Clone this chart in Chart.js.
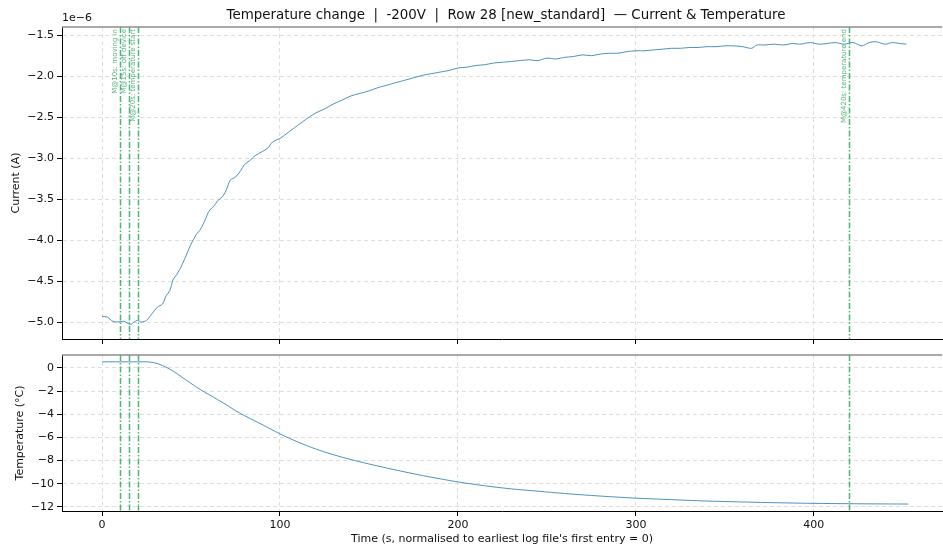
<!DOCTYPE html>
<html>
<head>
<meta charset="utf-8">
<script src="https://cdn.jsdelivr.net/npm/chart.js@4"></script>
<style>
  body { margin: 0; background: #fff; }
  #wrap { position: relative; width: 943px; height: 547px; }
  #wrap canvas { position: absolute; left: 0; }
</style>
</head>
<body>
<div id="wrap">
  <canvas id="currentChart" width="943" height="350" style="top:0"></canvas>
  <canvas id="tempChart" width="943" height="197" style="top:350px"></canvas>
</div>
<script>
// time axis ticks (s)
const timeTicks = [0, 100, 200, 300, 400];

// current trace, values in units of 1e-6 A
const currentTime = [0, 3, 6, 9, 12, 14, 16, 18, 20, 22, 25, 28, 31, 34, 36, 38, 40, 42, 45, 48,
  50, 53, 55, 58, 60, 63, 65, 68, 70, 72, 75, 78, 80, 83, 86, 90, 93, 96, 100, 105,
  110, 115, 120, 125, 130, 135, 140, 145, 150, 155, 160, 165, 170, 175, 180, 185, 190, 195, 200, 205,
  210, 215, 220, 225, 230, 235, 240, 245, 250, 255, 260, 265, 270, 275, 280, 285, 290, 295, 300, 305,
  310, 315, 320, 325, 330, 335, 340, 345, 350, 355, 360, 365, 368, 372, 378, 383, 388, 392, 398, 403,
  408, 412, 417, 422, 427, 431, 435, 440, 444, 448, 452];
const currentValues = [-4.93, -4.94, -4.99, -5.00, -4.99, -5.01, -5.03, -5.00, -4.98, -5.00, -4.98, -4.90, -4.82, -4.78, -4.68, -4.62, -4.48, -4.42, -4.30, -4.15,
  -4.05, -3.93, -3.88, -3.75, -3.65, -3.58, -3.52, -3.46, -3.38, -3.27, -3.23, -3.15, -3.08, -3.03, -2.97, -2.92, -2.88, -2.80, -2.76, -2.68,
  -2.60, -2.52, -2.45, -2.40, -2.34, -2.29, -2.24, -2.21, -2.18, -2.14, -2.11, -2.08, -2.05, -2.02, -1.99, -1.97, -1.95, -1.93, -1.90, -1.89,
  -1.87, -1.86, -1.84, -1.83, -1.82, -1.81, -1.80, -1.81, -1.78, -1.79, -1.77, -1.76, -1.74, -1.75, -1.73, -1.72, -1.72, -1.70, -1.69, -1.69,
  -1.68, -1.67, -1.66, -1.66, -1.65, -1.65, -1.64, -1.64, -1.63, -1.63, -1.64, -1.66, -1.62, -1.62, -1.61, -1.62, -1.60, -1.61, -1.59, -1.61,
  -1.60, -1.59, -1.61, -1.59, -1.63, -1.59, -1.58, -1.61, -1.59, -1.60, -1.61];
const currentTicks = [-1.5, -2.0, -2.5, -3.0, -3.5, -4.0, -4.5, -5.0];

// temperature trace (°C)
const tempTime = [0, 10, 20, 25, 28, 31, 34, 37, 40, 45, 50, 55, 60, 65, 70, 75, 80, 85, 90, 95,
  100, 110, 120, 130, 140, 150, 160, 170, 180, 190, 200, 215, 230, 245, 260, 280, 300, 320, 340, 360,
  380, 400, 420, 440, 453];
const tempValues = [0.52, 0.52, 0.52, 0.52, 0.48, 0.38, 0.2, -0.02, -0.28, -0.82, -1.34, -1.86, -2.3, -2.75, -3.2, -3.7, -4.12, -4.52, -4.9, -5.3,
  -5.7, -6.4, -7.0, -7.5, -7.92, -8.3, -8.65, -8.98, -9.3, -9.58, -9.85, -10.18, -10.45, -10.65, -10.85, -11.07, -11.25, -11.38, -11.5, -11.58,
  -11.65, -11.7, -11.73, -11.75, -11.76];
const tempTicks = [0, -2, -4, -6, -8, -10, -12];

// event markers
const markerTimes = [10, 15, 20, 420];
const markerLabels = ['M@10s: moving in', 'M@15s: off device', 'M@20s: temperature start', 'M@420s: temperature end'];

const FONT = 'DejaVu Sans';
const lineColor = 'rgba(31,119,180,0.8)';
const markerColor = 'rgba(46,168,96,0.85)';
const gridColor = '#dedede';

function toPoints(xs, ys) {
  return xs.map((x, i) => ({ x: x, y: ys[i] }));
}
function fmtMinus(v, digits) {
  return v.toFixed(digits).replace('-', '\u2212');
}

const markerPlugin = {
  id: 'markers',
  afterDatasetsDraw(chart, args, opts) {
    const ctx = chart.ctx, a = chart.chartArea, xs = chart.scales.x;
    ctx.save();
    ctx.beginPath();
    ctx.rect(a.left, a.top, a.right - a.left, a.bottom - a.top);
    ctx.clip();
    ctx.strokeStyle = markerColor;
    ctx.lineWidth = 1.5;
    ctx.setLineDash([6, 2, 1.5, 2]);
    markerTimes.forEach((t, i) => {
      const px = Math.round(xs.getPixelForValue(t)) + 0.5;
      ctx.beginPath();
      ctx.moveTo(px, a.top);
      ctx.lineTo(px, a.bottom);
      ctx.stroke();
      if (opts.labels) {
        ctx.save();
        ctx.translate(px - 2, a.top + 2);
        ctx.rotate(-Math.PI / 2);
        ctx.fillStyle = markerColor;
        ctx.font = '7px ' + FONT;
        ctx.textAlign = 'right';
        ctx.textBaseline = 'bottom';
        ctx.fillText(markerLabels[i], 0, 0);
        ctx.restore();
      }
    });
    ctx.restore();
  }
};

const frame = {
  id: 'frame',
  afterDraw(chart, args, opts) {
    const ctx = chart.ctx, a = chart.chartArea;
    ctx.save();
    ctx.strokeStyle = '#8c8c8c';
    ctx.lineWidth = 1.5;
    ctx.beginPath();
    ctx.moveTo(a.left, a.top);
    ctx.lineTo(a.right, a.top);
    ctx.stroke();
    if (opts.title) {
      ctx.fillStyle = '#111';
      ctx.font = '13.4px ' + FONT;
      ctx.textAlign = 'center';
      ctx.textBaseline = 'middle';
      ctx.fillText(opts.title, (a.left + a.right) / 2 + 4, 16);
      ctx.font = '11px ' + FONT;
      ctx.textAlign = 'left';
      ctx.fillText('1e\u22126', a.left, 18);
    }
    ctx.restore();
  }
};

function xAxis(showLabels, h) {
  return {
    type: 'linear',
    min: -22.5,
    max: 472,
    afterBuildTicks: s => { s.ticks = timeTicks.map(v => ({ value: v })); },
    afterFit: s => { s.height = h; s.paddingLeft = 0; s.paddingRight = 0; },
    grid: { color: gridColor, tickColor: '#000', tickLength: 5, tickWidth: 1 },
    border: { color: '#000', width: 1, dash: [4, 3] },
    ticks: {
      display: showLabels,
      padding: 3,
      color: '#111',
      font: { family: FONT, size: 11 },
      callback: v => fmtMinus(v, 0)
    },
    title: {
      display: showLabels,
      text: "Time (s, normalised to earliest log file's first entry = 0)",
      color: '#111',
      font: { family: FONT, size: 11 },
      padding: { top: 0, bottom: 1 }
    }
  };
}

function yAxis(min, max, ticks, digits, title, titlePad) {
  return {
    type: 'linear',
    min: min,
    max: max,
    afterBuildTicks: s => { s.ticks = ticks.map(v => ({ value: v })); },
    afterFit: s => { s.width = 62; s.paddingTop = 0; s.paddingBottom = 0; },
    grid: { color: gridColor, tickColor: '#000', tickLength: 5, tickWidth: 1 },
    border: { color: '#000', width: 1, dash: [4, 3] },
    ticks: {
      padding: 3,
      color: '#111',
      font: { family: FONT, size: 11 },
      callback: v => fmtMinus(v, digits)
    },
    title: {
      display: true,
      text: title,
      color: '#111',
      font: { family: FONT, size: 11 },
      padding: { top: titlePad, bottom: 0 }
    }
  };
}

new Chart(document.getElementById('currentChart'), {
  type: 'line',
  data: {
    datasets: [{
      data: toPoints(currentTime, currentValues),
      borderColor: lineColor,
      borderWidth: 1,
      pointRadius: 0,
      tension: 0.3
    }]
  },
  options: {
    responsive: false,
    animation: false,
    devicePixelRatio: 1,
    layout: { padding: { top: 27, right: 1, left: 0, bottom: 0 } },
    plugins: {
      legend: { display: false },
      tooltip: { enabled: false },
      markers: { labels: true },
      frame: { title: 'Temperature change  |  -200V  |  Row 28 [new_standard]  \u2014 Current & Temperature' }
    },
    scales: {
      x: xAxis(false, 11),
      y: yAxis(-5.207, -1.40, currentTicks, 1, 'Current (A)', 10)
    }
  },
  plugins: [markerPlugin, frame]
});

new Chart(document.getElementById('tempChart'), {
  type: 'line',
  data: {
    datasets: [{
      data: toPoints(tempTime, tempValues),
      borderColor: lineColor,
      borderWidth: 1,
      pointRadius: 0,
      tension: 0.3
    }]
  },
  options: {
    responsive: false,
    animation: false,
    devicePixelRatio: 1,
    layout: { padding: { top: 5, right: 1, left: 0, bottom: 0 } },
    plugins: {
      legend: { display: false },
      tooltip: { enabled: false },
      markers: { labels: false },
      frame: {}
    },
    scales: {
      x: xAxis(true, 36),
      y: yAxis(-12.36, 1.11, tempTicks, 0, 'Temperature (\u00b0C)', 14)
    }
  },
  plugins: [markerPlugin, frame]
});
</script>
</body>
</html>
